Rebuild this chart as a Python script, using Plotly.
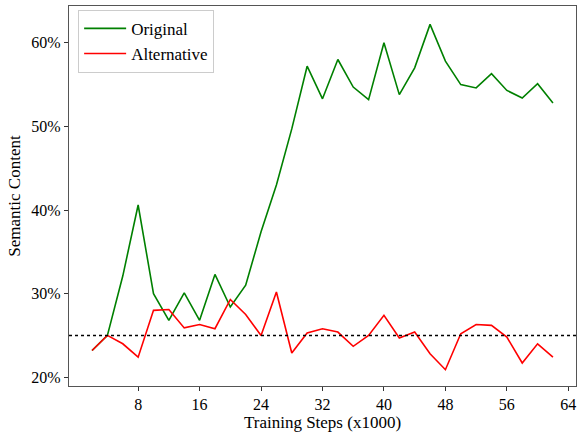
import plotly.graph_objects as go

steps = [2, 4, 6, 8, 10, 12, 14, 16, 18, 20, 22, 24, 26, 28, 30, 32, 34, 36, 38, 40,
         42, 44, 46, 48, 50, 52, 54, 56, 58, 60, 62]
original = [23.2, 25.0, 32.1, 40.6, 30.0, 26.8, 30.1, 26.8, 32.3, 28.4, 31.0, 37.4,
            43.0, 49.7, 57.2, 53.3, 58.0, 54.7, 53.2, 60.0, 53.8, 57.0, 62.2, 57.8,
            55.0, 54.6, 56.3, 54.3, 53.4, 55.1, 52.8]
alternative = [23.2, 25.0, 24.0, 22.4, 28.0, 28.1, 25.9, 26.3, 25.8, 29.3, 27.5, 25.0,
               30.2, 22.9, 25.3, 25.8, 25.4, 23.7, 25.0, 27.4, 24.7, 25.4, 22.8, 20.9,
               25.2, 26.3, 26.2, 24.8, 21.7, 24.0, 22.4]
chance_level = 25
x_ticks = [8, 16, 24, 32, 40, 48, 56, 64]
y_ticks = [20, 30, 40, 50, 60]

font = "Liberation Serif, Times New Roman, serif"

fig = go.Figure()
fig.add_trace(go.Scatter(x=steps, y=original, mode="lines", name="Original",
                         line=dict(color="green", width=1.6)))
fig.add_trace(go.Scatter(x=steps, y=alternative, mode="lines", name="Alternative",
                         line=dict(color="red", width=1.6)))
fig.add_shape(type="line", xref="paper", yref="y", x0=0, x1=1, y0=chance_level, y1=chance_level,
              line=dict(color="black", width=1.5, dash="dot"), layer="above")

axis_common = dict(showgrid=False, zeroline=False, showline=True, mirror=True,
                   linecolor="#555555", linewidth=1.2, ticks="outside", ticklen=4,
                   tickwidth=1, tickcolor="#333333",
                   tickfont=dict(family=font, size=16, color="black"))

fig.update_layout(
    width=577, height=436,
    margin=dict(l=69, r=1, t=6, b=50),
    paper_bgcolor="white", plot_bgcolor="white",
    font=dict(family=font, size=16, color="black"),
    xaxis=dict(range=[-1, 65], tickvals=x_ticks,
               title=dict(text="Training Steps (x1000)", font=dict(family=font, size=17), standoff=1),
               **axis_common),
    yaxis=dict(range=[18.95, 64.4], tickvals=y_ticks, ticktext=[f"{v}%" for v in y_ticks],
               title=dict(text="Semantic Content", font=dict(family=font, size=17), standoff=6),
               **axis_common),
    legend=dict(x=0.018, y=0.99, xanchor="left", yanchor="top",
                bgcolor="rgba(255,255,255,0.8)", bordercolor="#cccccc", borderwidth=1,
                font=dict(family=font, size=17), tracegroupgap=0, itemwidth=42),
    showlegend=True,
)

fig.write_html("out.html")
